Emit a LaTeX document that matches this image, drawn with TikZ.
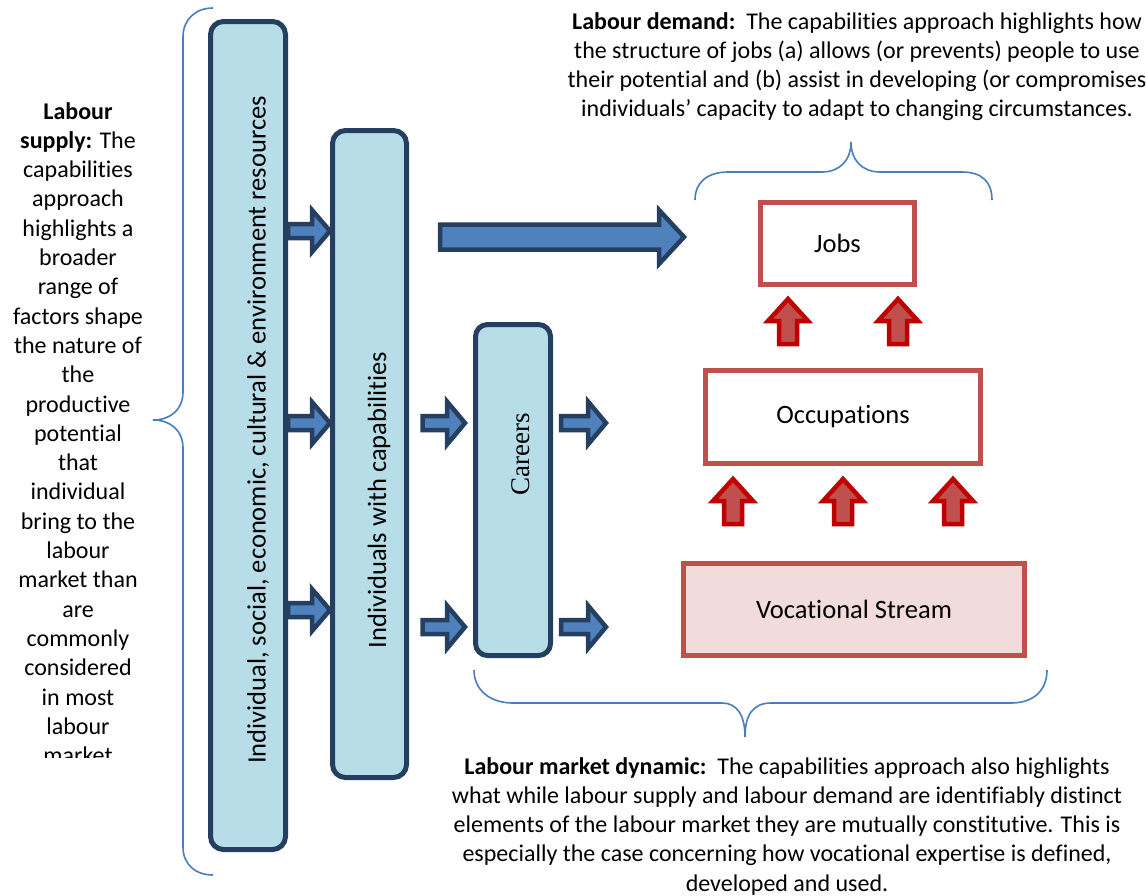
\documentclass[tikz,border=0pt]{standalone}
\usepackage{fontspec}
\setmainfont{Carlito}[Ligatures=NoCommon]
\newfontfamily\careersfont{Liberation Serif}
\usetikzlibrary{calc}

\definecolor{boxfill}{HTML}{B7DEE8}
\definecolor{boxline}{HTML}{243F60}
\definecolor{arrowfill}{HTML}{4F81BD}
\definecolor{redline}{HTML}{C0504D}
\definecolor{redarrowline}{HTML}{C00000}
\definecolor{vocfill}{HTML}{F2DCDB}
\definecolor{bracecol}{HTML}{4A7EBB}

% right-pointing block arrow: style, start, tip, body half width, head half width, head length
\newcommand{\harrow}[6]{%
  \path[#1] let \p1=#2, \p2=#3 in
    (\x1,{\y1+#4pt}) -- ({\x2-#6pt},{\y1+#4pt}) -- ({\x2-#6pt},{\y1+#5pt})
    -- (\x2,\y1) -- ({\x2-#6pt},{\y1-#5pt}) -- ({\x2-#6pt},{\y1-#4pt})
    -- (\x1,{\y1-#4pt}) -- cycle;}
% upward block arrow: style, start (bottom), tip, body half width, head half width, head length
\newcommand{\varrow}[6]{%
  \path[#1] let \p1=#2, \p2=#3 in
    ({\x1-#4pt},\y1) -- ({\x1-#4pt},{\y2-#6pt}) -- ({\x1-#5pt},{\y2-#6pt})
    -- (\x1,\y2) -- ({\x1+#5pt},{\y2-#6pt}) -- ({\x1+#4pt},{\y2-#6pt})
    -- ({\x1+#4pt},\y1) -- cycle;}

\tikzset{
  bluebox/.style={draw=boxline, fill=boxfill, line width=5pt, rounded corners=13pt,
    inner sep=0pt},
  redbox/.style={draw=redline, fill=white, line width=5pt, inner sep=0pt,
    font=\fontsize{26.5}{32}\selectfont},
  sidelabel/.style={rotate=90, inner sep=0pt, font=\fontsize{26.5}{32}\selectfont},
  bodytext/.style={inner sep=0pt, align=center, font=\fontsize{24}{29.3}\selectfont},
  bluearrow/.style={draw=boxline, fill=arrowfill, line width=4.5pt, line join=miter},
  redarrow/.style={draw=redarrowline, fill=redline, line width=4.5pt, line join=miter},
  brace/.style={draw=bracecol, line width=1.6pt}
}

\begin{document}
\begin{tikzpicture}[x=1pt, y=-1pt]
\useasboundingbox (0,0) rectangle (1146,895);

% supply side columns
\node[bluebox, minimum width=75pt, minimum height=828pt] (resources) at (248,435.5) {};
\node[sidelabel] (resourceslabel) at (258,430)
  {Individual, social, economic, cultural \& environment resources};
\node[bluebox, minimum width=74pt, minimum height=647pt] (capab) at (369.5,454) {};
\node[sidelabel] (capablabel) at (379,500) {Individuals with capabilities};
\node[bluebox, minimum width=75pt, minimum height=331pt, rounded corners=12pt] (careers) at (513,490) {};
\node[sidelabel, font=\careersfont\fontsize{27}{32}\selectfont] (careerslabel) at (521,454) {Careers};

% demand side boxes
\node[redbox, minimum width=154pt, minimum height=82pt] (jobs) at (837.5,243.5) {Jobs};
\node[redbox, minimum width=275pt, minimum height=93pt] (occ) at (843,417) {Occupations};
\node[redbox, fill=vocfill, minimum width=341pt, minimum height=92pt] (voc) at (854,609.5) {Vocational Stream};

% free ends of the open arrows
\coordinate (bigstart) at (440,237);
\coordinate (bigtip) at (684,237);
\coordinate (outA) at (606,423);
\coordinate (outB) at (606,627);

% blue block arrows
\harrow{bluearrow}{(resources.east |- 0,231)}{(capab.west |- 0,231)}{7}{21}{18}
\harrow{bluearrow}{(resources.east |- 0,423)}{(capab.west |- 0,423)}{7}{21}{18}
\harrow{bluearrow}{(resources.east |- 0,610)}{(capab.west |- 0,610)}{7}{21}{18}
\harrow{bluearrow}{([xshift=13.5pt]capab.east |- 0,423)}{([xshift=-8pt]careers.west |- 0,423)}{7}{21.5}{18}
\harrow{bluearrow}{([xshift=13.5pt]capab.east |- 0,627)}{([xshift=-8pt]careers.west |- 0,627)}{7}{21.5}{18}
\harrow{bluearrow}{([xshift=8pt]careers.east |- outA)}{(outA)}{7}{21.5}{18}
\harrow{bluearrow}{([xshift=8pt]careers.east |- outB)}{(outB)}{7}{21.5}{18}
\harrow{bluearrow}{(bigstart)}{(bigtip)}{12.5}{27}{25}

% red block arrows
\varrow{redarrow}{([shift={(-55,-24)}]occ.north)}{([shift={(-55,12)}]jobs.south -| occ.north)}{9}{20}{22}
\varrow{redarrow}{([shift={(55,-24)}]occ.north)}{([shift={(55,12)}]jobs.south -| occ.north)}{9}{20}{22}
\varrow{redarrow}{([shift={(-110,-37)}]voc.north -| occ.south)}{([shift={(-110,13)}]occ.south)}{9}{20}{22}
\varrow{redarrow}{([shift={(0,-37)}]voc.north -| occ.south)}{([shift={(0,13)}]occ.south)}{9}{20}{22}
\varrow{redarrow}{([shift={(110,-37)}]voc.north -| occ.south)}{([shift={(110,13)}]occ.south)}{9}{20}{22}

% braces
\draw[brace] (213,8) .. controls (195,8) and (183,20) .. (183,37) -- (183,392)
  .. controls (183,410) and (170,420) .. (153,420)
  .. controls (170,420) and (183,430) .. (183,448) -- (183,847)
  .. controls (183,864) and (195,875) .. (213,875);
\draw[brace] (695,200) .. controls (695,182) and (708,172) .. (728,172) -- (822,172)
  .. controls (840,172) and (851,160) .. (851,142)
  .. controls (851,160) and (862,172) .. (880,172) -- (962,172)
  .. controls (982,172) and (992,182) .. (992,200);
\draw[brace] (474,670) .. controls (474,690) and (490,703) .. (513,703) -- (722,703)
  .. controls (737,703) and (745,715) .. (745,737)
  .. controls (745,715) and (753,703) .. (771,703) -- (1011,703)
  .. controls (1034,703) and (1047,690) .. (1047,670);

% annotations
\begin{scope}
\clip (0,90) rectangle (170,757);
\node[bodytext, anchor=north] (supply) at (78,102)
  {\textbf{Labour}\\\textbf{supply:} The\\capabilities\\approach\\highlights a\\broader\\range of\\factors shape\\the nature of\\the\\productive\\potential\\that\\individual\\bring to the\\labour\\market than\\are\\commonly\\considered\\in most\\labour\\market};
\end{scope}
\node[bodytext, anchor=north] (demand) at (857,12)
  {\textbf{Labour demand:}\ \ The capabilities approach highlights how\\
   the structure of jobs (a) allows (or prevents) people to use\\
   their potential and (b) assist in developing (or compromises\\
   individuals’ capacity to adapt to changing circumstances.};
\node[bodytext, anchor=north] (dynamic) at (787,757)
  {\textbf{Labour market dynamic:}\ \ The capabilities approach also highlights\\
   what while labour supply and labour demand are identifiably distinct\\
   elements of the labour market they are mutually constitutive. This is\\
   especially the case concerning how vocational expertise is defined,\\
   developed and used.};
\end{tikzpicture}
\end{document}
